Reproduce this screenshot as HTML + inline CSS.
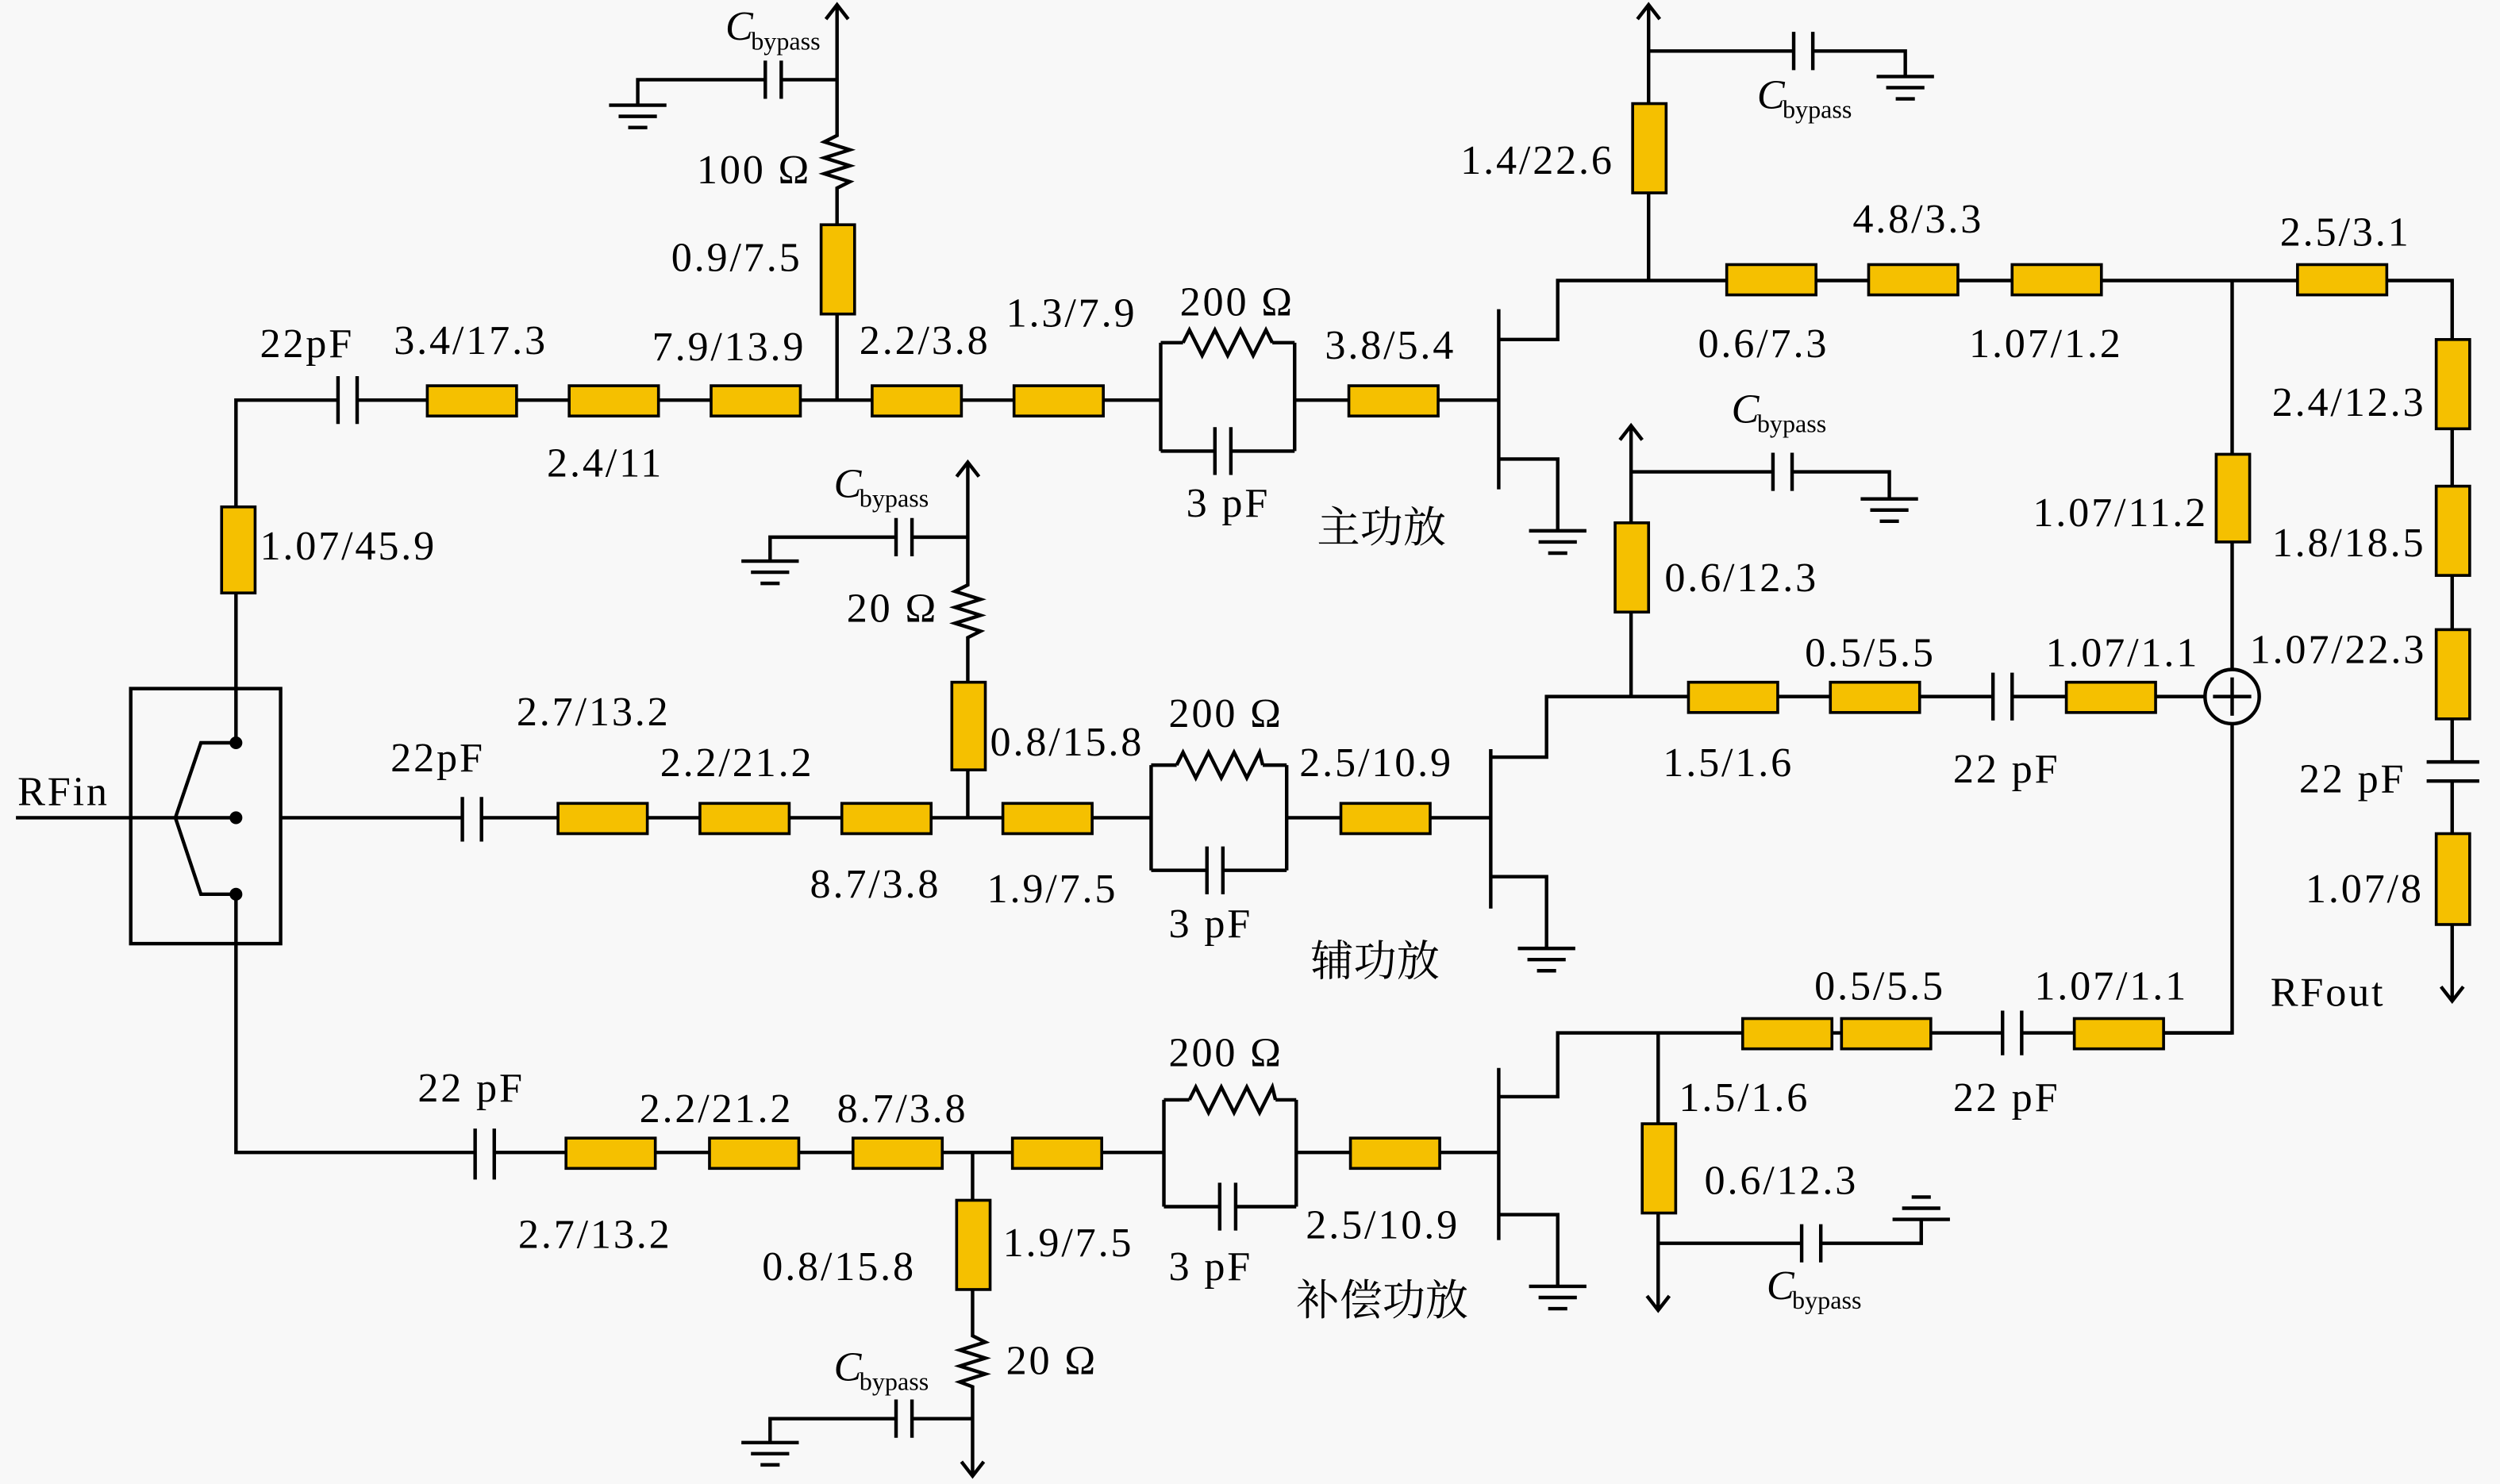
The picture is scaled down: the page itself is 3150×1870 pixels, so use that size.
<!DOCTYPE html>
<html><head><meta charset="utf-8"><style>
html,body{margin:0;padding:0;background:#f8f8f8;}
svg{display:block;}
text{font-family:"Liberation Serif","Noto Serif CJK SC",serif;font-size:26px;letter-spacing:1.4px;fill:#000;}
.cn{font-family:"Noto Serif CJK SC","Noto Sans CJK SC",serif;font-size:27px;letter-spacing:0;}
.ci{font-style:italic;font-size:26px;letter-spacing:0;}
.sb{font-size:16px;letter-spacing:0;}
</style></head><body>
<svg width="3150" height="1870" viewBox="0 0 1568 931" preserveAspectRatio="none" xmlns="http://www.w3.org/2000/svg">
<rect width="1568" height="931" fill="#f8f8f8"/>
<g stroke="#000" stroke-width="2.2" fill="none" stroke-linejoin="miter">
<rect x="82" y="432" width="94" height="160"/>
<path d="M10 513H148 M176 513H290 M110 513L126 466H148 M110 513L126 561H148 M148 466V251H212 M148 561V723H298"/>
<path d="M224 251H728 M212 236V266 M224 236V266"/>
<path d="M728 215V283 M812 215V283 M728 215H742 M742 215L746 207L754 223L762 207L770 223L778 207L786 223L794 207L798 215 M798 215H812 M728 283H762 M772 283H812 M762 268V298 M772 268V298 M812 251H940"/>
<path d="M940 194V307 M940 213H977V176H1400 M940 288H977V333"/>
<path d="M959 333H995 M965 340H989 M971 347H983"/>
<path d="M525 251V122 L525 118 L533 114 L517 109 L533 104 L517 99 L533 94 L517 89 L525 85 V3 M518 12L525 3L532 12"/>
<path d="M525 50H490 M480 50H400V66 M490 38V62 M480 38V62 M382 66H418 M388 73H412 M394 80H406"/>
<path d="M1034 176V3 M1027 12L1034 3L1041 12 M1034 32H1125 M1137 32H1195V48 M1125 20V44 M1137 20V44 M1177 48H1213 M1183 55H1207 M1189 62H1201"/>
<path d="M1400 176H1538V478 M1538 490V628 M1531 619L1538 628L1545 619 M1522 478H1555 M1522 490H1555"/>
<path d="M1400 176V420 M1400 454V648H1357"/>
<circle cx="1400" cy="437" r="17"/>
<path d="M1388 437H1412 M1400 425V449"/>
<path d="M290 500V528 M302 500V528 M302 513H722 M722 480V546 M807 480V546 M722 480H738 M738 480L742 472L750 488L758 472L766 488L774 472L782 488L790 472L792 480 M792 480H807 M722 546H757 M767 546H807 M757 531V561 M767 531V561 M807 513H935"/>
<path d="M935 470V570 M935 475H970V437H1250 M1262 437H1383 M1250 422V452 M1262 422V452 M935 550H970V595 M952 595H988 M958 602H982 M964 609H976"/>
<path d="M1023 437V267 M1016 276L1023 267L1030 276 M1023 296H1112 M1124 296H1185V313 M1112 284V308 M1124 284V308 M1167 313H1203 M1173 320H1197 M1179 327H1191"/>
<path d="M607 513V403 L607 400 L615 396 L599 391 L615 386 L599 381 L615 376 L599 371 L607 367 V290 M600 299L607 290L614 299 M607 337H572 M562 337H483V352 M572 325V349 M562 325V349 M465 352H501 M471 359H495 M477 366H489"/>
<path d="M298 708V740 M310 708V740 M310 723H730 M730 690V757 M813 690V757 M730 690H746 M746 690L750 682L758 698L766 682L774 698L782 682L790 698L798 682L800 690 M800 690H813 M730 757H765 M775 757H813 M765 742V772 M775 742V772 M813 723H940"/>
<path d="M940 670V778 M940 688H977V648H1256 M1268 648H1400 M1256 634V662 M1268 634V662 M940 762H977V807 M959 807H995 M965 814H989 M971 821H983"/>
<path d="M1040 648V822 M1033 813L1040 822L1047 813 M1040 780H1130 M1142 780H1205V765 M1130 768V792 M1142 768V792 M1187 765H1223 M1193 758H1217 M1199 751H1211"/>
<path d="M610 723V835 L610 838 L618 842 L602 847 L618 852 L602 857 L618 862 L602 867 L610 870 V926 M603 917L610 926L617 917 M610 890H572 M562 890H483V905 M572 878V902 M562 878V902 M465 905H501 M471 912H495 M477 919H489"/>
</g>
<g fill="#000"><circle cx="148" cy="466" r="4"/><circle cx="148" cy="513" r="4"/><circle cx="148" cy="561" r="4"/></g>
<g fill="#F5C000" stroke="#000" stroke-width="1.8">
<rect x="139" y="318" width="21" height="54"/>
<rect x="268" y="242" width="56" height="19"/><rect x="357" y="242" width="56" height="19"/><rect x="446" y="242" width="56" height="19"/><rect x="547" y="242" width="56" height="19"/><rect x="636" y="242" width="56" height="19"/><rect x="846" y="242" width="56" height="19"/>
<rect x="515" y="141" width="21" height="56"/>
<rect x="1024" y="65" width="21" height="56"/>
<rect x="1083" y="166" width="56" height="19"/><rect x="1172" y="166" width="56" height="19"/><rect x="1262" y="166" width="56" height="19"/><rect x="1441" y="166" width="56" height="19"/>
<rect x="1528" y="213" width="21" height="56"/><rect x="1528" y="305" width="21" height="56"/><rect x="1528" y="395" width="21" height="56"/><rect x="1528" y="523" width="21" height="57"/>
<rect x="1390" y="285" width="21" height="55"/>
<rect x="350" y="504" width="56" height="19"/><rect x="439" y="504" width="56" height="19"/><rect x="528" y="504" width="56" height="19"/><rect x="629" y="504" width="56" height="19"/><rect x="841" y="504" width="56" height="19"/>
<rect x="1059" y="428" width="56" height="19"/><rect x="1148" y="428" width="56" height="19"/><rect x="1296" y="428" width="56" height="19"/>
<rect x="1013" y="328" width="21" height="56"/>
<rect x="597" y="428" width="21" height="55"/>
<rect x="355" y="714" width="56" height="19"/><rect x="445" y="714" width="56" height="19"/><rect x="535" y="714" width="56" height="19"/><rect x="635" y="714" width="56" height="19"/><rect x="847" y="714" width="56" height="19"/>
<rect x="1093" y="639" width="56" height="19"/><rect x="1155" y="639" width="56" height="19"/><rect x="1301" y="639" width="56" height="19"/>
<rect x="1030" y="705" width="21" height="56"/>
<rect x="600" y="753" width="21" height="56"/>
</g>
<g>
<text x="455" y="25" class="ci">C</text><text x="471" y="31" class="sb">bypass</text>
<text x="437" y="115">100 Ω</text>
<text x="421" y="170">0.9/7.5</text>
<text x="163" y="224">22pF</text>
<text x="247" y="222">3.4/17.3</text>
<text x="409" y="226">7.9/13.9</text>
<text x="539" y="222">2.2/3.8</text>
<text x="631" y="205">1.3/7.9</text>
<text x="740" y="198">200 Ω</text>
<text x="831" y="225">3.8/5.4</text>
<text x="343" y="299">2.4/11</text>
<text x="744" y="324">3 pF</text>
<text x="826" y="340" class="cn">主功放</text>
<text x="163" y="351">1.07/45.9</text>
<text x="916" y="109">1.4/22.6</text>
<text x="1102" y="68" class="ci">C</text><text x="1118" y="74" class="sb">bypass</text>
<text x="1162" y="146">4.8/3.3</text>
<text x="1430" y="154">2.5/3.1</text>
<text x="1065" y="224">0.6/7.3</text>
<text x="1235" y="224">1.07/1.2</text>
<text x="1425" y="261">2.4/12.3</text>
<text x="1086" y="265" class="ci">C</text><text x="1102" y="271" class="sb">bypass</text>
<text x="1275" y="330">1.07/11.2</text>
<text x="1425" y="349">1.8/18.5</text>
<text x="1044" y="371">0.6/12.3</text>
<text x="1411" y="416">1.07/22.3</text>
<text x="1132" y="418">0.5/5.5</text>
<text x="1283" y="418">1.07/1.1</text>
<text x="523" y="312" class="ci">C</text><text x="539" y="318" class="sb">bypass</text>
<text x="531" y="390">20 Ω</text>
<text x="324" y="455">2.7/13.2</text>
<text x="621" y="474">0.8/15.8</text>
<text x="733" y="456">200 Ω</text>
<text x="245" y="484">22pF</text>
<text x="414" y="487">2.2/21.2</text>
<text x="815" y="487">2.5/10.9</text>
<text x="1043" y="487">1.5/1.6</text>
<text x="1225" y="491">22 pF</text>
<text x="1442" y="497">22 pF</text>
<text x="11" y="505">RFin</text>
<text x="508" y="563">8.7/3.8</text>
<text x="619" y="566">1.9/7.5</text>
<text x="1446" y="566">1.07/8</text>
<text x="733" y="588">3 pF</text>
<text x="822" y="612" class="cn">辅功放</text>
<text x="1138" y="627">0.5/5.5</text>
<text x="1276" y="627">1.07/1.1</text>
<text x="1424" y="631">RFout</text>
<text x="733" y="669">200 Ω</text>
<text x="262" y="691">22 pF</text>
<text x="401" y="704">2.2/21.2</text>
<text x="525" y="704">8.7/3.8</text>
<text x="1053" y="697">1.5/1.6</text>
<text x="1225" y="697">22 pF</text>
<text x="1069" y="749">0.6/12.3</text>
<text x="325" y="783">2.7/13.2</text>
<text x="629" y="788">1.9/7.5</text>
<text x="819" y="777">2.5/10.9</text>
<text x="478" y="803">0.8/15.8</text>
<text x="733" y="803">3 pF</text>
<text x="813" y="825" class="cn">补偿功放</text>
<text x="1108" y="815" class="ci">C</text><text x="1124" y="821" class="sb">bypass</text>
<text x="631" y="862">20 Ω</text>
<text x="523" y="866" class="ci">C</text><text x="539" y="872" class="sb">bypass</text>
</g>
</svg>
</body></html>
